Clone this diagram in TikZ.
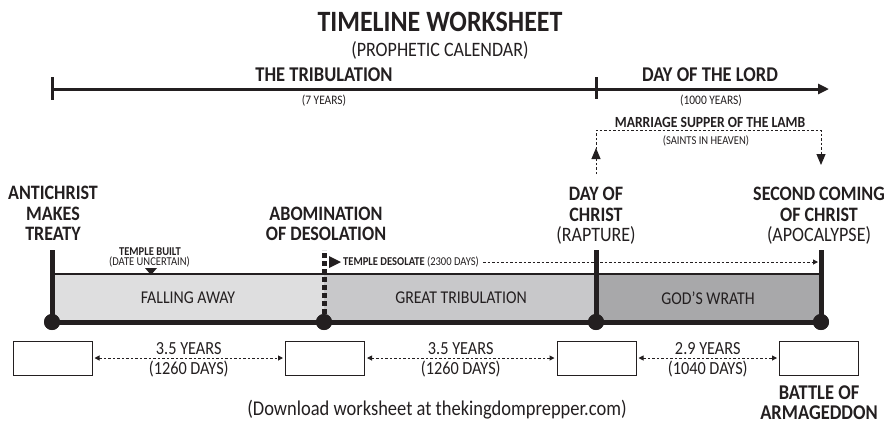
\documentclass[tikz,border=0pt]{standalone}
\usepackage{fontspec}
\setmainfont{Carlito}[FakeStretch=0.88]
\usepackage{tikz}
\usetikzlibrary{arrows.meta,positioning,calc}
\definecolor{tlblack}{RGB}{35,31,32}
\definecolor{tlfall}{RGB}{222,222,223}
\definecolor{tlgreat}{RGB}{200,200,202}
\definecolor{tlwrath}{RGB}{168,168,170}
\tikzstyle{topline} = [line width=3pt, color=tlblack]
\tikzstyle{eventbar} = [line width=5pt, color=tlblack]
\tikzstyle{eventdot} = [circle, fill=tlblack, inner sep=0pt, minimum size=16pt]
\tikzstyle{eventlabel} = [align=center, inner sep=0pt, text=tlblack, font=\fontsize{20.5}{20.5}\selectfont\bfseries]
\tikzstyle{datebox} = [rectangle, draw=tlblack, fill=white, line width=1pt, minimum width=79pt, minimum height=34pt]
\tikzstyle{dashline} = [line width=1pt, dash pattern=on 2.5pt off 2pt, color=tlblack]
\tikzstyle{smalltip} = [-{Triangle[length=5pt,width=5pt]}]
\tikzstyle{periodtext} = [inner sep=0pt, text=tlblack, font=\fontsize{21}{23}\selectfont\bfseries]
\tikzstyle{smalltext} = [inner sep=0pt, text=tlblack, font=\fontsize{13}{14}\selectfont]
\tikzstyle{bandtext} = [inner sep=0pt, text=tlblack, font=\fontsize{18}{20}\selectfont]
\tikzstyle{spantext} = [inner sep=1pt, text=tlblack, font=\fontsize{18.5}{20}\selectfont]

\begin{document}
\begin{tikzpicture}[x=1pt, y=-1pt, node distance=3pt]
\useasboundingbox (0,0) rectangle (893,424);

% Title
\node[periodtext, font=\fontsize{29.5}{31}\selectfont\bfseries] (title) at (440,22) {TIMELINE WORKSHEET};
\node[periodtext, font=\fontsize{20.5}{22}\selectfont] (subtitle) at (440,50) {(PROPHETIC CALENDAR)};

% Top timeline
\coordinate (tstart) at (52,89);
\coordinate (tmid) at (596,89);
\coordinate (tend) at (829,89);
\draw[topline, -{Triangle[length=11pt,width=10pt]}] (tstart) -- (tend);
\draw[topline] ($(tstart)+(0,-12)$) -- ($(tstart)+(0,11)$);
\draw[topline] ($(tmid)+(0,-12)$) -- ($(tmid)+(0,10)$);
\node[periodtext] (tribulation) at (324,75) {THE TRIBULATION};
\node[smalltext] (sevenyears) at (324,101) {(7 YEARS)};
\node[periodtext] (dayofthelord) at (710,75) {DAY OF THE LORD};
\node[smalltext] (thousandyears) at (711,101) {(1000 YEARS)};

% Marriage supper
\node[smalltext, font=\fontsize{15.5}{16}\selectfont\bfseries] (supper) at (710,122) {MARRIAGE SUPPER OF THE LAMB};
\node[smalltext, font=\fontsize{12}{13}\selectfont] (saints) at (706,141) {(SAINTS IN HEAVEN)};
\coordinate (suppleft) at (596,130);
\coordinate (suppright) at (821,130);
\draw[dashline, -{Triangle[length=11pt,width=9pt]}] (596,174) -- (596,148);
\draw[dashline, -{Triangle[length=11pt,width=9pt]}] (596,149) -- (suppleft) -- (suppright) -- (821,165);

% Periods
\fill[tlfall] (52,274) rectangle (324,322);
\fill[tlgreat] (324,274) rectangle (596,322);
\fill[tlwrath] (596,274) rectangle (821,322);
\draw[line width=1.3pt, tlblack] (52,274) -- (821,274);
\node[bandtext] (fallingaway) at (188,298) {FALLING AWAY};
\node[bandtext] (greattribulation) at (461,298) {GREAT TRIBULATION};
\node[bandtext] (godswrath) at (708,298) {GOD'S WRATH};

% Temple
\node[smalltext, font=\fontsize{12}{13}\selectfont\bfseries, text height=8pt, text depth=0pt] (templebuilt) at (150,251.5) {TEMPLE BUILT};
\node[smalltext, font=\fontsize{12}{13}\selectfont, text height=8.5pt, text depth=2pt] (uncertain) at (149.5,262.5) {(DATE UNCERTAIN)};
\fill[tlblack] (145,268) -- (157,268) -- (151,275) -- cycle;
\fill[tlblack] (329,256) -- (341,262) -- (329,268) -- cycle;
\node[smalltext, font=\fontsize{12}{13}\selectfont, anchor=west] (desolate) at (343,262) {\textbf{TEMPLE DESOLATE} (2300 DAYS)};
\draw[dashline, smalltip] ($(desolate.east)+(4,0)$) -- (818,262);

% Events
\node[eventdot] (treaty) at (52,322) {};
\node[eventdot] (abomination) at (324,322) {};
\node[eventdot] (rapture) at (596,322) {};
\node[eventdot] (coming) at (821,322) {};
\draw[eventbar] (treaty.center) -- (coming.center);
\draw[eventbar] (treaty.center) -- ++(0,-72);
\draw[eventbar, dash pattern=on 5pt off 3pt] (abomination.center) -- ++(0,-72);
\draw[eventbar] (rapture.center) -- ++(0,-72);
\draw[eventbar] (coming.center) -- ++(0,-72);
\node[eventdot] at (treaty) {};
\node[eventdot] at (abomination) {};
\node[eventdot] at (rapture) {};
\node[eventdot] at (coming) {};

\node[eventlabel, anchor=south] (treatylabel) at (53,241) {ANTICHRIST\\MAKES\\TREATY};
\node[eventlabel, anchor=south] (abominationlabel) at (326,241) {ABOMINATION\\OF DESOLATION};
\node[eventlabel, anchor=south] (rapturelabel) at (596,245) {DAY OF\\CHRIST\\{\mdseries (RAPTURE)}};
\node[eventlabel, anchor=south] (cominglabel) at (819,245) {SECOND COMING\\OF CHRIST\\{\mdseries (APOCALYPSE)}};

% Date boxes
\node[datebox] (treatybox) at (52.5,358) {};
\node[datebox] (abominationbox) at (325,358) {};
\node[datebox] (rapturebox) at (596.5,358) {};
\node[datebox] (comingbox) at (819,358) {};
\node[eventlabel, font=\fontsize{21}{20.5}\selectfont\bfseries, below=10pt of comingbox] (armageddon) {BATTLE OF\\ARMAGEDDON};

\draw[dashline, {Triangle[length=5pt,width=5pt]}-{Triangle[length=5pt,width=5pt]}, shorten <=2pt, shorten >=2pt] (treatybox.east) -- (abominationbox.west)
  node[midway, above=1.5pt, spantext] {3.5 YEARS} node[midway, below=1.5pt, spantext] {(1260 DAYS)};
\draw[dashline, {Triangle[length=5pt,width=5pt]}-{Triangle[length=5pt,width=5pt]}, shorten <=2pt, shorten >=2pt] (abominationbox.east) -- (rapturebox.west)
  node[midway, above=1.5pt, spantext] {3.5 YEARS} node[midway, below=1.5pt, spantext] {(1260 DAYS)};
\draw[dashline, {Triangle[length=5pt,width=5pt]}-{Triangle[length=5pt,width=5pt]}, shorten <=2pt, shorten >=2pt] (rapturebox.east) -- (comingbox.west)
  node[midway, above=1.5pt, spantext] {2.9 YEARS} node[midway, below=1.5pt, spantext] {(1040 DAYS)};

% Footer
\node[spantext, font=\fontsize{21}{23}\selectfont] (download) at (437,410) {(Download worksheet at thekingdomprepper.com)};
\end{tikzpicture}
\end{document}
